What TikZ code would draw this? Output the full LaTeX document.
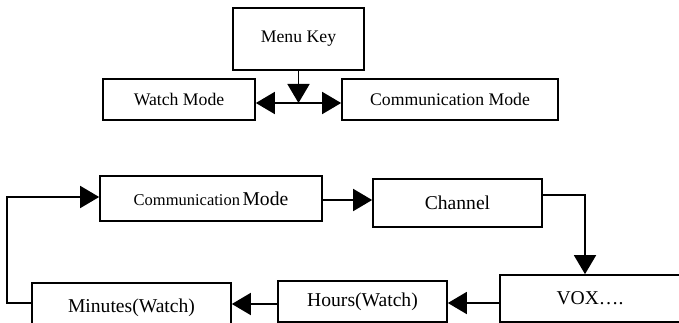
\documentclass[tikz,border=0pt]{standalone}
\usepackage{fontspec}
\setmainfont{Liberation Serif}
\usetikzlibrary{arrows.meta}
\begin{document}
\begin{tikzpicture}[x=1pt,y=-1pt,
  box/.style={draw,line width=1.7pt,inner sep=0pt,minimum width=#1,anchor=center},
  big/.style={font=\fontsize{17.7}{20}\selectfont},
  small/.style={font=\fontsize{19.6}{22}\selectfont},
  conn/.style={line width=1.7pt,-{Triangle[length=19pt,width=22pt]}},
  line/.style={line width=1.7pt}]
\useasboundingbox (0,0) rectangle (679,323);
\clip (0,0) rectangle (679,323);
% top part
\node[box=131pt,minimum height=62pt,big] (mk) at (298.5,39) {Menu Key};
\node[box=152pt,minimum height=41pt,big] (wm) at (179,99.5) {Watch Mode};
\node[box=216pt,minimum height=41pt,big] (cm) at (450,99.5) {Communication Mode};
\coordinate (j) at (298.5,103);
\draw[conn] (mk.south) -- (j);
\draw[conn] (j) -- (j -| wm.east);
\draw[conn] (j) -- (j -| cm.west);
% bottom part
\node[box=222pt,minimum height=45pt] (cm2) at (211,198.5)
  {{\fontsize{16.5}{18}\selectfont Communication} {\fontsize{19.6}{22}\selectfont Mode}};
\node[box=169pt,minimum height=48pt,small] (ch) at (457.5,203) {Channel};
\node[box=182pt,minimum height=47pt,small,text width=182pt,align=center] (vox) at (591,298.5) {\hspace*{-2pt}VOX….};
\node[box=169pt,minimum height=41pt,small] (hr) at (362.5,301.5) {Hours(Watch)};
\node[box=199pt,minimum height=50pt,small] (mn) at (131.5,308) {Minutes(Watch)};
\coordinate (c1) at (585,195);
\coordinate (l1) at (7,303);
\coordinate (l2) at (7,197);
\draw[conn] (cm2.east |- 0,200) -- (ch.west |- 0,200);
\draw[conn] (ch.east |- c1) -- (c1) -- (c1 |- vox.north);
\draw[conn] (vox.west |- 0,303) -- (hr.east |- 0,303);
\draw[conn] (hr.west |- 0,304) -- (mn.east |- 0,304);
\draw[conn] (mn.west |- l1) -- (l1) -- (l2) -- (cm2.west |- l2);
\end{tikzpicture}
\end{document}
